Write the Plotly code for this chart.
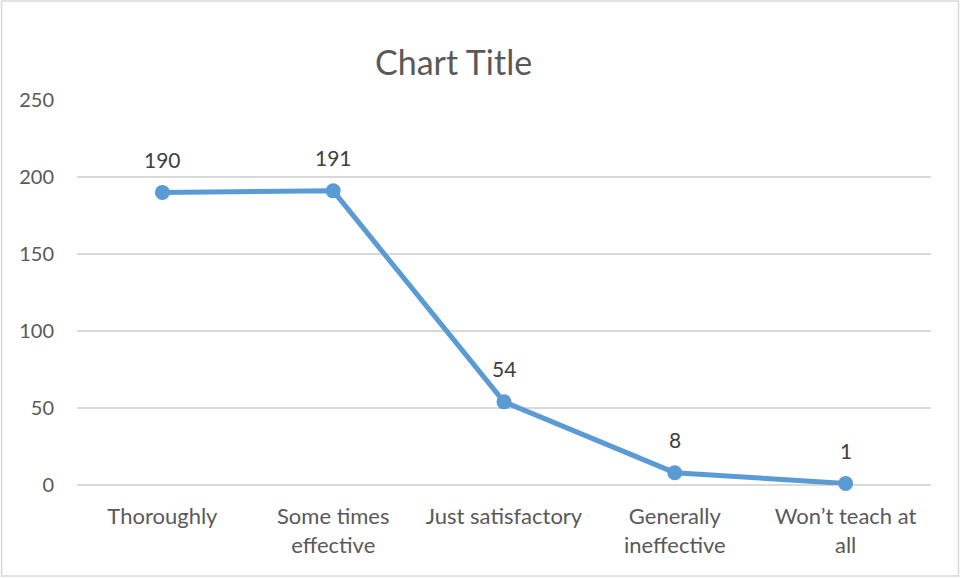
import plotly.graph_objects as go

categories = ["Thoroughly", "Some times<br>effective", "Just satisfactory",
              "Generally<br>ineffective", "Won’t teach at<br>all"]
values = [190, 191, 54, 8, 1]
y_ticks = [0, 50, 100, 150, 200, 250]

FONT = "Lato, 'Open Sans', sans-serif"
TXT = "#595959"
LINE = "#5B9BD5"

W, H = 961, 578
L, R, T, B = 76.5, 29.5, 100, 93
pw, ph = W - L - R, H - T - B

fig = go.Figure()
fig.add_trace(go.Scatter(
    x=categories, y=values, mode="lines+markers",
    line=dict(color=LINE, width=5),
    marker=dict(color=LINE, size=15),
    cliponaxis=False,
    hoverinfo="skip", showlegend=False,
))

annotations = []
for c, v in zip(categories, values):
    annotations.append(dict(x=c, y=v, xref="x", yref="y", text=str(v),
                            showarrow=False, yshift=33,
                            font=dict(family=FONT, size=21, color="#404040")))
annotations.append(dict(x=(453 - L) / pw, y=(H - 62 - B) / ph,
                        xref="paper", yref="paper",
                        yanchor="middle", xanchor="center",
                        text="Chart Title", showarrow=False,
                        font=dict(family=FONT, size=34, color=TXT)))

fig.update_layout(
    width=W, height=H,
    margin=dict(l=L, r=R, t=T, b=B),
    paper_bgcolor="white", plot_bgcolor="white",
    annotations=annotations,
    shapes=[dict(type="rect", xref="paper", yref="paper",
                 x0=(1 - L) / pw, x1=(959 - L) / pw,
                 y0=(H - B - 576) / ph, y1=(H - B - 1) / ph,
                 line=dict(color="#D9D9D9", width=1.5), layer="below")],
    xaxis=dict(type="category", range=[-0.5, 4.5], showgrid=False,
               showline=False, zeroline=False, ticks="",
               ticklabelstandoff=16,
               tickfont=dict(family=FONT, size=22, color=TXT)),
    yaxis=dict(range=[0, 250], tickvals=y_ticks, showgrid=True,
               gridcolor="#D9D9D9", gridwidth=1.5, zeroline=True,
               zerolinecolor="#D9D9D9", zerolinewidth=1.5,
               showline=False, ticks="", ticklabelstandoff=22,
               tickfont=dict(family=FONT, size=20, color=TXT)),
)
fig.write_html("out.html", config={"displayModeBar": False, "staticPlot": True},
               post_script="document.body.style.margin='0';document.body.style.overflow='hidden';")
